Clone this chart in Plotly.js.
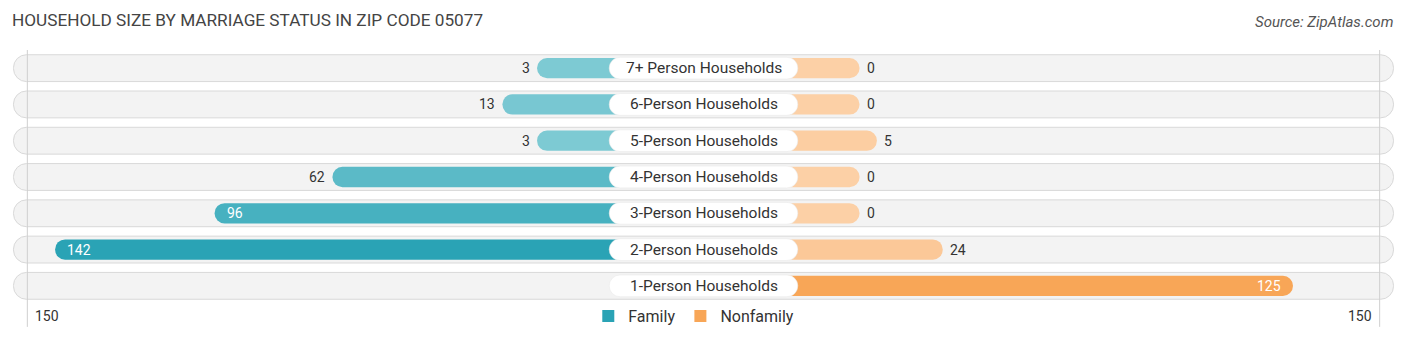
<!DOCTYPE html>
<html>
<head>
<meta charset="utf-8">
<script src="https://cdn.plot.ly/plotly-3.0.1.min.js"></script>
<style>html,body{margin:0;padding:0;background:#fff;}#chart{width:1406px;height:340px;}</style>
</head>
<body>
<div id="chart"></div>
<script>
// ---- data ----
const categories = ["7+ Person Households","6-Person Households","5-Person Households","4-Person Households","3-Person Households","2-Person Households","1-Person Households"];
const familyValues = [3, 13, 3, 62, 96, 142, null];
const nonfamilyValues = [0, 0, 5, 0, 0, 24, 125];
const familyColors = ["#7dcad3","#78c7d2","#7dcad3","#5bbac7","#47b1c0","#2aa3b5","#2aa3b5"];
const nonfamilyColors = ["#fcd0a6","#fcd0a6","#fccea2","#fcd0a6","#fcd0a6","#fbc898","#f8a657"];
const axisMax = 150;
const axisTickText = "150";
const seriesNames = ["Family","Nonfamily"];

// ---- layout constants ----
const OFF = 45;        // stub under label pill (axis units)
const RANGE = 200;
const PILL = 199;
const LABEL_HALF = 27.2;

const idx = categories.map((c, i) => i);
const traces = [];

// background pills
traces.push({
  type: 'bar', orientation: 'h', y: idx, x: idx.map(() => 2 * PILL), base: -PILL,
  width: 0.74, marker: {color: '#f3f3f3', line: {color: '#d9d9d9', width: 1}, cornerradius: 13},
  hoverinfo: 'skip', showlegend: false
});

// family bars (leftwards)
traces.push({
  type: 'bar', orientation: 'h', y: idx,
  x: familyValues.map(v => v === null ? null : -(v + OFF)), base: 0,
  width: 0.56, marker: {color: familyColors, cornerradius: 10},
  hoverinfo: 'skip', showlegend: false
});
// nonfamily bars (rightwards)
traces.push({
  type: 'bar', orientation: 'h', y: idx,
  x: nonfamilyValues.map(v => v === null ? null : (v + OFF)), base: 0,
  width: 0.56, marker: {color: nonfamilyColors, cornerradius: 10},
  hoverinfo: 'skip', showlegend: false
});
// label pills
traces.push({
  type: 'bar', orientation: 'h', y: idx, x: idx.map(() => 2 * LABEL_HALF), base: -LABEL_HALF,
  width: 0.6, marker: {color: '#ffffff', line: {color: '#e6e6e6', width: 0.5}, cornerradius: 11},
  hoverinfo: 'skip', showlegend: false
});
// legend entries
traces.push({type: 'bar', orientation: 'h', x: [null], y: [null], name: seriesNames[0], marker: {color: '#2aa3b5'}, showlegend: true});
traces.push({type: 'bar', orientation: 'h', x: [null], y: [null], name: seriesNames[1], marker: {color: '#f8a657'}, showlegend: true});

const annotations = [];
categories.forEach((c, i) => {
  annotations.push({x: 0, y: i, text: c, showarrow: false, xanchor: 'center', yanchor: 'middle',
    font: {family: 'Roboto, sans-serif', size: 15.5, color: '#333'}});
});
familyValues.forEach((v, i) => {
  if (v === null) return;
  const inside = v > 80;
  annotations.push({x: -(v + OFF), y: i, text: String(v), showarrow: false, yanchor: 'middle',
    xanchor: inside ? 'left' : 'right', xshift: inside ? 10 : -5,
    font: {family: 'Roboto, sans-serif', size: 14, color: inside ? '#ffffff' : '#333'}});
});
nonfamilyValues.forEach((v, i) => {
  if (v === null) return;
  const inside = v > 80;
  annotations.push({x: v + OFF, y: i, text: String(v), showarrow: false, yanchor: 'middle',
    xanchor: inside ? 'right' : 'left', xshift: inside ? -10 : 5,
    font: {family: 'Roboto, sans-serif', size: 14, color: inside ? '#ffffff' : '#333'}});
});
// axis end labels
annotations.push({x: -(axisMax + OFF), y: 0, yref: 'paper', yshift: -12, text: axisTickText, showarrow: false,
  xanchor: 'left', yanchor: 'middle', xshift: 6, font: {family: 'Roboto, sans-serif', size: 14, color: '#333'}});
annotations.push({x: (axisMax + OFF), y: 0, yref: 'paper', yshift: -12, text: axisTickText, showarrow: false,
  xanchor: 'right', yanchor: 'middle', xshift: -6, font: {family: 'Roboto, sans-serif', size: 14, color: '#333'}});
// source
annotations.push({xref: 'paper', yref: 'paper', x: 1, y: 1, yshift: 28, text: 'Source: ZipAtlas.com', showarrow: false,
  xanchor: 'right', yanchor: 'middle', xshift: -2,
  font: {family: 'Roboto, sans-serif', size: 15, color: '#555', style: 'italic'}});

const shapes = [-1, 1].map(sgn => ({
  type: 'line', xref: 'x', yref: 'paper', x0: sgn * (axisMax + OFF), x1: sgn * (axisMax + OFF),
  y0: -0.09, y1: 1, line: {color: '#cfcfcf', width: 1}, layer: 'above'
}));

const layout = {
  width: 1406, height: 340,
  margin: {l: 10, r: 9, t: 50, b: 36, autoexpand: false},
  paper_bgcolor: '#fff', plot_bgcolor: '#fff',
  barmode: 'overlay',
  title: {text: 'HOUSEHOLD SIZE BY MARRIAGE STATUS IN ZIP CODE 05077', xref: 'container', yref: 'container',
    x: 12/1406, xanchor: 'left', y: 1 - 20/340, yanchor: 'middle',
    font: {family: 'Roboto, sans-serif', size: 17.2, color: '#444'}},
  xaxis: {range: [-RANGE, RANGE], showgrid: false, zeroline: false, showticklabels: false, fixedrange: true},
  yaxis: {range: [categories.length - 0.5, -0.5], showgrid: false, zeroline: false, showticklabels: false, fixedrange: true},
  showlegend: true,
  legend: {orientation: 'h', x: 0.493, xanchor: 'center', y: -12/254, yanchor: 'middle', bgcolor: 'rgba(0,0,0,0)',
    font: {family: 'Roboto, sans-serif', size: 16, color: '#333'}, itemwidth: 30, traceorder: 'normal'},
  annotations: annotations,
  shapes: shapes
};

Plotly.newPlot('chart', traces, layout, {displayModeBar: false, staticPlot: true});
</script>
</body>
</html>
